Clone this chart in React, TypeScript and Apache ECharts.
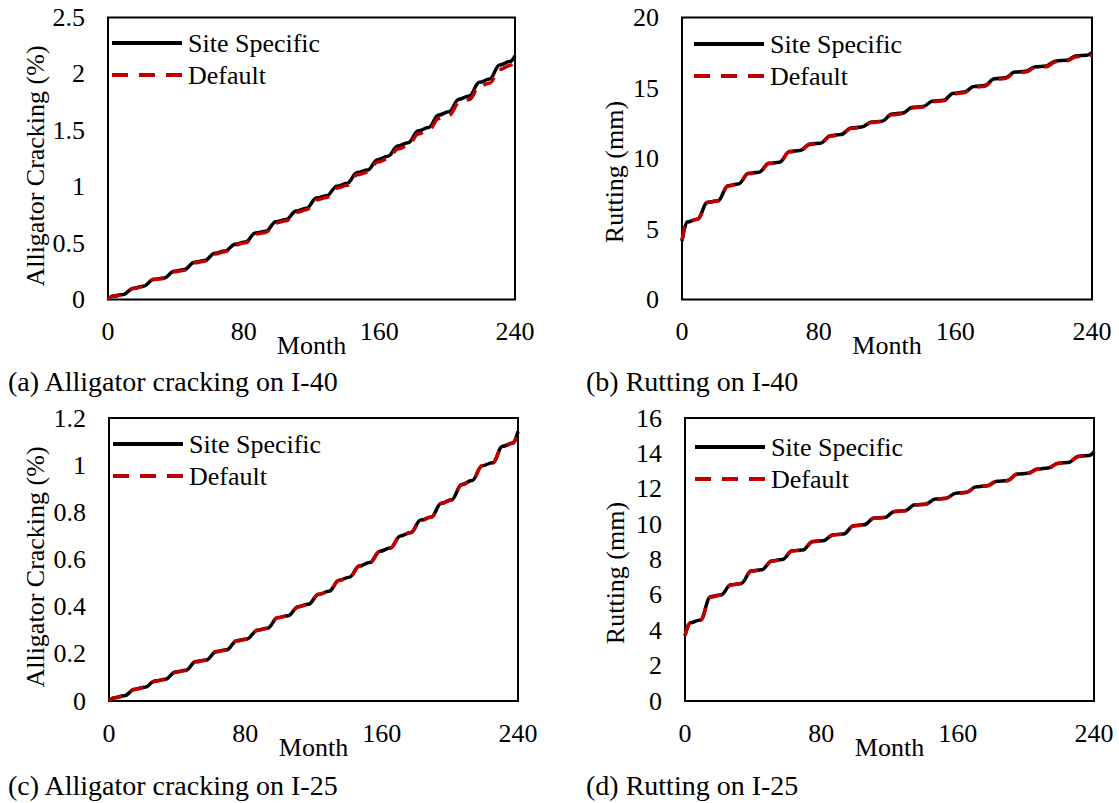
import React, { useEffect, useRef } from "react";
import * as echarts from "echarts";

// Month positions at which values were read (flat starts / flat ends of each yearly step)
const months = [0, 3, 9, 15, 21, 27, 33, 39, 45, 51, 57, 63, 69, 75, 81, 87, 93, 99, 105, 111, 117, 123, 129, 135, 141, 147, 153, 159, 165, 171, 177, 183, 189, 195, 201, 207, 213, 219, 225, 231, 237, 240];

const crackI40Site = [0, 0.03, 0.045, 0.1, 0.118, 0.18, 0.19, 0.25, 0.265, 0.33, 0.345, 0.41, 0.43, 0.49, 0.51, 0.59, 0.605, 0.69, 0.71, 0.785, 0.81, 0.9, 0.92, 1.005, 1.03, 1.125, 1.148, 1.24, 1.27, 1.36, 1.39, 1.495, 1.525, 1.635, 1.665, 1.775, 1.805, 1.925, 1.955, 2.08, 2.11, 2.16];
const crackI40Default = [0, 0.028, 0.043, 0.098, 0.115, 0.177, 0.187, 0.246, 0.26, 0.325, 0.34, 0.404, 0.424, 0.483, 0.502, 0.58, 0.595, 0.679, 0.698, 0.772, 0.796, 0.885, 0.905, 0.988, 1.012, 1.105, 1.128, 1.218, 1.247, 1.335, 1.364, 1.468, 1.497, 1.605, 1.634, 1.742, 1.772, 1.889, 1.918, 2.04, 2.075, 2.12];

const rutI40Site = [4.15, 5.5, 5.7, 6.9, 7.0, 8.07, 8.2, 8.95, 9.03, 9.66, 9.74, 10.5, 10.57, 11.03, 11.09, 11.62, 11.7, 12.17, 12.23, 12.58, 12.65, 13.15, 13.22, 13.63, 13.69, 14.07, 14.13, 14.63, 14.71, 15.1, 15.17, 15.65, 15.72, 16.13, 16.19, 16.5, 16.56, 16.92, 16.97, 17.28, 17.32, 17.52];
const rutI40Default = [4.2, 5.48, 5.69, 6.88, 6.99, 8.05, 8.18, 8.93, 9.02, 9.64, 9.73, 10.47, 10.55, 11.0, 11.07, 11.59, 11.68, 12.14, 12.2, 12.55, 12.62, 13.11, 13.18, 13.59, 13.65, 14.03, 14.09, 14.58, 14.66, 15.05, 15.12, 15.6, 15.67, 16.07, 16.13, 16.44, 16.5, 16.86, 16.92, 17.22, 17.27, 17.35];

const crackI25Site = [0, 0.014, 0.022, 0.05, 0.058, 0.085, 0.092, 0.123, 0.13, 0.167, 0.174, 0.21, 0.217, 0.256, 0.263, 0.3, 0.309, 0.354, 0.362, 0.4, 0.41, 0.453, 0.465, 0.512, 0.525, 0.573, 0.587, 0.635, 0.649, 0.7, 0.714, 0.767, 0.78, 0.838, 0.853, 0.918, 0.935, 0.998, 1.01, 1.08, 1.094, 1.143];
const crackI25Default = [0, 0.013, 0.021, 0.049, 0.057, 0.084, 0.091, 0.122, 0.129, 0.166, 0.173, 0.209, 0.216, 0.255, 0.262, 0.299, 0.308, 0.353, 0.361, 0.399, 0.409, 0.452, 0.464, 0.511, 0.524, 0.572, 0.586, 0.634, 0.648, 0.699, 0.713, 0.766, 0.779, 0.837, 0.852, 0.917, 0.934, 0.997, 1.009, 1.079, 1.093, 1.14];

const rutI25Site = [3.7, 4.42, 4.58, 5.9, 6.0, 6.57, 6.65, 7.36, 7.42, 7.92, 8.0, 8.49, 8.54, 9.02, 9.06, 9.4, 9.44, 9.91, 9.96, 10.34, 10.38, 10.72, 10.76, 11.09, 11.13, 11.42, 11.46, 11.75, 11.8, 12.11, 12.17, 12.42, 12.46, 12.83, 12.87, 13.11, 13.17, 13.44, 13.49, 13.84, 13.88, 14.1];
const rutI25Default = [3.7, 4.4, 4.57, 5.88, 5.99, 6.56, 6.64, 7.35, 7.41, 7.91, 7.99, 8.48, 8.53, 9.01, 9.05, 9.39, 9.43, 9.9, 9.95, 10.33, 10.37, 10.71, 10.75, 11.08, 11.12, 11.41, 11.45, 11.74, 11.79, 12.1, 12.16, 12.41, 12.45, 12.82, 12.86, 13.1, 13.16, 13.43, 13.48, 13.83, 13.87, 14.08];

const seriesNames = ["Site Specific", "Default"];
const xTickInterval = 80;
const xMax = 240;

const FONT = "Liberation Serif";
const BLACK = "#000000";
const RED = "#C00000";

const panels = [
  { grid: { left: 108, top: 17.5, width: 407, height: 282 }, yMax: 2.5, yInterval: 0.5, yName: "Alligator Cracking (%)", caption: "(a) Alligator cracking on I-40", site: crackI40Site, def: crackI40Default, capX: 8, capY: 381, legX: 112, legY: 43, nameX: 35, nameY: 166 },
  { grid: { left: 682, top: 17.5, width: 410, height: 282 }, yMax: 20, yInterval: 5, yName: "Rutting (mm)", caption: "(b) Rutting on I-40", site: rutI40Site, def: rutI40Default, capX: 586, capY: 381, legX: 694, legY: 44, nameX: 614, nameY: 172 },
  { grid: { left: 109, top: 418, width: 409, height: 283 }, yMax: 1.2, yInterval: 0.2, yName: "Alligator Cracking (%)", caption: "(c) Alligator cracking on I-25", site: crackI25Site, def: crackI25Default, capX: 8, capY: 785, legX: 113, legY: 444, nameX: 35, nameY: 567 },
  { grid: { left: 685, top: 418, width: 409, height: 283 }, yMax: 16, yInterval: 2, yName: "Rutting (mm)", caption: "(d) Rutting on I-25", site: rutI25Site, def: rutI25Default, capX: 586, capY: 785, legX: 695, legY: 447, nameX: 615, nameY: 573 },
];

export default function App() {
  const ref = useRef<HTMLDivElement>(null);

  useEffect(() => {
    if (!ref.current) return;
    const chart = echarts.init(ref.current, undefined, { renderer: "svg" });

    const grids: any[] = [];
    const xAxes: any[] = [];
    const yAxes: any[] = [];
    const series: any[] = [];
    const graphics: any[] = [];

    panels.forEach((p, i) => {
      grids.push({ ...p.grid, show: true, borderColor: BLACK, borderWidth: 2, backgroundColor: "transparent" });
      xAxes.push({
        type: "value",
        gridIndex: i,
        min: 0,
        max: xMax,
        interval: xTickInterval,
        name: "Month",
        nameLocation: "middle",
        nameGap: 33,
        nameMoveOverlap: false,
        nameTextStyle: { fontFamily: FONT, fontSize: 26, color: BLACK },
        axisLine: { show: false },
        axisTick: { show: false },
        splitLine: { show: false },
        axisLabel: { margin: 19, fontFamily: FONT, fontSize: 26, color: BLACK },
      });
      yAxes.push({
        type: "value",
        gridIndex: i,
        min: 0,
        max: p.yMax,
        interval: p.yInterval,
        axisLine: { show: false },
        axisTick: { show: false },
        splitLine: { show: false },
        axisLabel: { margin: 23, fontFamily: FONT, fontSize: 26, color: BLACK },
      });
      const mk = (vals: number[]) => months.map((m, k) => [m, vals[k]]);
      series.push({
        name: seriesNames[0],
        type: "line",
        xAxisIndex: i,
        yAxisIndex: i,
        data: mk(p.site),
        symbol: "none",
        smooth: 0.4,
        smoothMonotone: "x",
        lineStyle: { color: BLACK, width: 3.5, type: "solid" },
        z: 2,
      });
      series.push({
        name: seriesNames[1],
        type: "line",
        xAxisIndex: i,
        yAxisIndex: i,
        data: mk(p.def),
        symbol: "none",
        smooth: 0.4,
        smoothMonotone: "x",
        lineStyle: { color: RED, width: 3.5, type: [14, 10], cap: "butt" },
        z: 3,
      });

      // y-axis title (rotated)
      graphics.push({
        type: "text",
        x: p.nameX,
        y: p.nameY,
        rotation: Math.PI / 2,
        style: { text: p.yName, fontFamily: FONT, fontSize: 26, fill: BLACK, align: "center", verticalAlign: "middle" },
        silent: true,
      });

      // legend
      const legLen = 70;
      const rows = [
        { name: seriesNames[0], color: BLACK, dash: null as any, y: p.legY },
        { name: seriesNames[1], color: RED, dash: [16, 11], y: p.legY + 32 },
      ];
      rows.forEach((r) => {
        graphics.push({
          type: "line",
          shape: { x1: p.legX, y1: r.y, x2: p.legX + legLen, y2: r.y },
          style: { stroke: r.color, lineWidth: 4, lineDash: r.dash || undefined, lineCap: "butt" },
          silent: true,
        });
        graphics.push({
          type: "text",
          x: p.legX + legLen + 6,
          y: r.y,
          style: { text: r.name, fontFamily: FONT, fontSize: 26, fill: BLACK, verticalAlign: "middle", align: "left" },
          silent: true,
        });
      });
      graphics.push({
        type: "text",
        x: p.capX,
        y: p.capY,
        style: { text: p.caption, fontFamily: FONT, fontSize: 28, fill: BLACK, verticalAlign: "middle", align: "left" },
        silent: true,
      });
    });

    chart.setOption({
      animation: false,
      backgroundColor: "#ffffff",
      textStyle: { fontFamily: FONT },
      grid: grids,
      xAxis: xAxes,
      yAxis: yAxes,
      series,
      graphic: graphics,
    });

    return () => chart.dispose();
  }, []);

  return (
    <div
      ref={ref}
      style={{ position: "absolute", left: 0, top: 0, width: 1119, height: 803, background: "#fff" }}
    />
  );
}
